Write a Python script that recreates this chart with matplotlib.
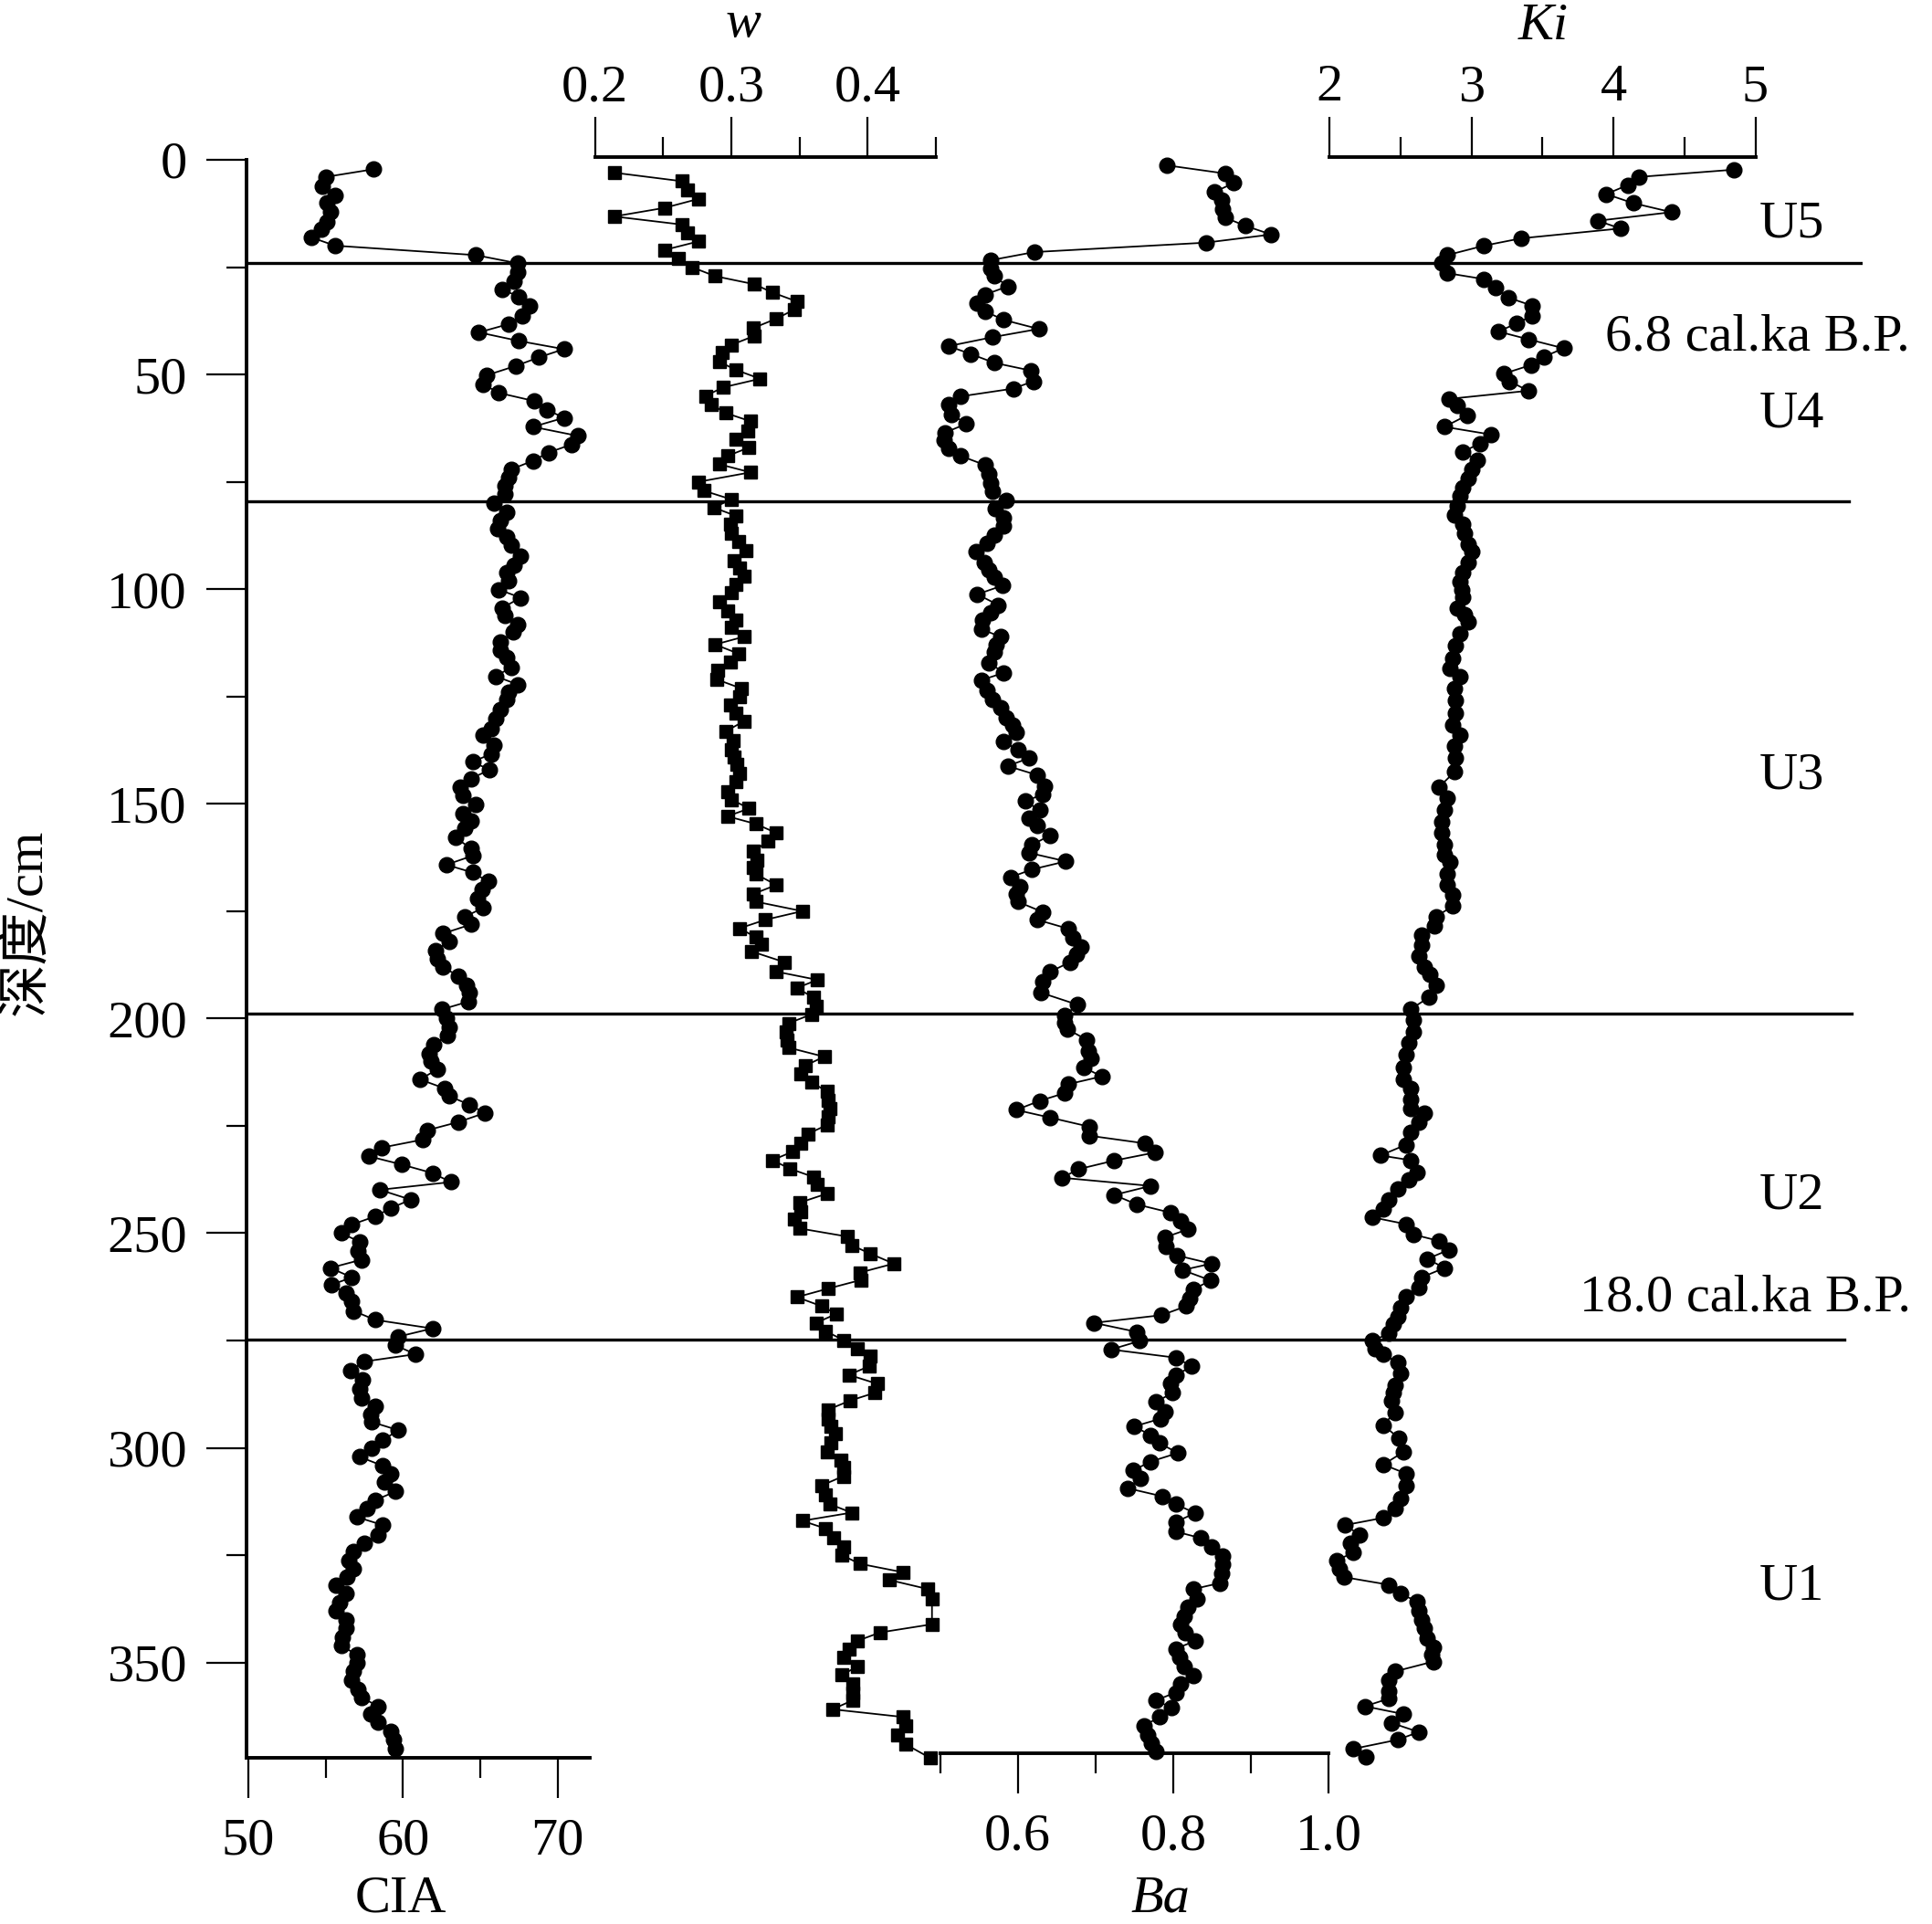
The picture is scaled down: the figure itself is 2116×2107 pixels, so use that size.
import numpy as np
import matplotlib.pyplot as plt

plt.rcParams['font.family'] = ['Liberation Serif', 'Noto Sans CJK SC']

# ---- data (depth in cm) ----
cia_depth = [2.2, 4.0, 6.1, 8.4, 10.1, 12.2, 14.4, 16.1, 18.1, 20.0, 22.2, 24.1, 26.1, 28.2, 30.2, 31.9, 34.1, 36.3,
             38.3, 40.2, 42.2, 44.1, 46.0, 48.0, 50.2, 52.3, 54.3, 56.2, 58.2, 60.1, 62.2, 64.3, 66.3, 68.2, 70.1,
             72.1, 74.1, 76.0, 77.8, 79.9, 82.1, 84.0, 86.0, 87.9, 89.8, 92.3, 94.4, 96.2, 98.0, 100.1, 102.0, 104.4,
             106.1, 108.3, 110.0, 112.2, 114.3, 116.0, 118.2, 120.3, 122.2, 123.9, 125.6, 128.1, 130.2, 132.4, 134.1,
             136.3, 138.4, 140.2, 142.1, 144.1, 146.2, 148.0, 150.1, 152.2, 154.0, 155.7, 157.9, 160.4, 162.1, 164.2,
             166.0, 168.1, 169.9, 172.0, 174.2, 176.3, 178.1, 180.2, 182.0, 184.1, 186.2, 188.1, 190.1, 192.2, 194.0,
             196.1, 197.9, 200.0, 202.1, 203.9, 206.0, 208.2, 209.9, 211.9, 214.2, 216.3, 218.1, 220.1, 222.0, 224.1,
             226.0, 228.2, 230.1, 232.1, 234.0, 236.0, 238.1, 239.9, 242.2, 244.2, 246.1, 248.0, 250.0, 252.0, 254.1,
             256.2, 258.1, 260.3, 262.0, 264.0, 265.9, 268.1, 270.2, 272.2, 274.1, 276.1, 278.2, 279.9, 282.0, 284.2,
             286.3, 288.3, 290.3, 292.2, 294.0, 295.9, 298.2, 300.2, 302.1, 304.2, 306.0, 308.0, 310.2, 312.2, 314.1,
             316.1, 318.0, 320.2, 322.2, 324.1, 326.2, 328.1, 330.1, 331.9, 334.0, 336.1, 337.9, 340.0, 342.0, 344.1,
             346.0, 348.2, 350.1, 352.1, 354.2, 356.2, 358.1, 360.2, 362.0, 364.0, 366.1, 368.0, 370.1]
cia = [58.1, 55.0, 54.8, 55.6, 55.1, 55.3, 55.1, 54.7, 54.1, 55.6, 64.7, 67.4, 67.4, 67.2, 66.4, 67.5, 68.2, 67.7,
       66.8, 64.9, 67.5, 70.4, 68.8, 67.3, 65.4, 65.2, 66.2, 68.5, 69.3, 70.4, 68.4, 71.3, 70.9, 69.4, 68.4,
       67.0, 66.8, 66.6, 66.6, 65.9, 66.7, 66.3, 66.1, 66.7, 67.0, 67.6, 67.2, 66.7, 66.8, 66.2, 67.6, 66.4,
       66.6, 67.4, 67.1, 66.3, 66.3, 66.7, 67.0, 66.0, 67.4, 66.8, 66.7, 66.3, 66.0, 65.7, 65.2,
       65.9, 65.7, 64.5, 65.6, 64.4, 63.7, 63.9, 64.7, 63.9, 64.4, 64.0, 63.4, 64.4, 64.5, 62.8,
       64.5, 65.5, 65.1, 64.8, 65.2, 64.0, 64.4, 62.6, 63.0, 62.1, 62.2, 62.6, 63.6, 64.1, 64.3,
       64.2, 62.5, 62.8, 63.0, 62.9, 62.0, 61.7, 61.8, 62.2, 61.1, 62.7, 63.0, 64.3, 65.3, 63.6,
       61.6, 61.3, 58.6, 57.8, 59.9, 61.9, 63.1, 58.5, 60.5, 59.2, 58.2, 56.7, 56.0, 57.2, 57.1,
       57.3, 55.3, 56.7, 55.4, 56.3, 56.7, 56.8, 58.2, 61.9, 59.7, 59.5, 60.8, 57.5, 56.6, 57.4,
       57.2, 57.3, 58.2, 57.9, 58.0, 59.7, 58.7, 58.0, 57.2, 58.7, 59.2, 58.8, 59.5, 58.2, 57.7,
       57.0, 58.7, 58.4, 57.5, 56.8, 56.5, 56.8, 56.4, 55.7, 56.3, 55.9, 55.7, 56.3, 56.3, 56.1,
       56.0, 57.0, 57.0, 56.8, 56.7, 57.1, 57.3, 58.4, 57.9, 58.4, 59.2, 59.4, 59.5]

w_depth = [3.0, 5.0, 7.1, 9.1, 11.2, 13.2, 15.1, 17.0, 19.0, 21.0, 22.9, 25.0, 27.1, 29.0, 30.9, 33.0, 34.9, 37.0,
           39.2, 41.0, 43.1, 44.8, 47.0, 48.9, 51.0, 53.0, 55.0, 56.9, 59.0, 60.9, 63.1, 65.0, 67.0, 69.0, 70.9,
           72.8, 75.0, 77.1, 79.1, 81.0, 82.9, 84.9, 87.0, 89.0, 91.1, 93.4, 95.1, 96.9, 99.0, 100.8, 103.0, 105.1,
           107.2, 109.0, 111.1, 112.9, 115.0, 116.9, 118.9, 121.0, 123.1, 125.1, 127.0, 128.9, 130.8, 133.1, 135.2,
           137.3, 139.1, 140.9, 143.0, 144.8, 147.2, 149.0, 151.1, 152.9, 154.7, 156.8, 158.7, 161.1, 163.2, 164.8,
           166.4, 168.9, 171.0, 172.8, 175.0, 177.0, 179.0, 181.1, 182.8, 184.4, 186.9, 189.1, 191.0, 192.9, 195.1,
           197.2, 199.0, 201.1, 203.2, 205.0, 206.8, 208.9, 211.0, 213.0, 214.9, 217.0, 219.0, 220.9, 222.9, 224.8,
           226.9, 229.1, 231.0, 233.0, 235.0, 236.9, 238.6, 240.8, 242.9, 245.0, 246.8, 248.9, 250.8, 252.8, 254.8,
           257.1, 259.2, 260.9, 262.9, 264.9, 267.0, 268.8, 270.9, 272.8, 274.9, 276.9, 278.7, 281.0, 283.0, 285.1,
           287.2, 289.0, 291.1, 293.2, 295.0, 296.8, 298.9, 300.9, 302.8, 304.6, 306.6, 308.8, 311.0, 313.1, 315.1,
           317.0, 318.8, 320.9, 323.0, 325.0, 327.0, 329.0, 330.8, 332.9, 335.1, 341.1, 343.0, 345.0, 346.8, 348.9,
           351.0, 352.9, 354.9, 357.0, 358.8, 360.9, 362.7, 364.8, 366.8, 369.1, 372.3]
w = [0.214, 0.264, 0.268, 0.276, 0.251, 0.214, 0.264, 0.268, 0.276, 0.251, 0.261, 0.271, 0.288, 0.317, 0.330, 0.348,
     0.346, 0.333, 0.316, 0.317, 0.300, 0.293, 0.291, 0.303, 0.321, 0.294, 0.281, 0.285, 0.296, 0.314, 0.312, 0.303,
     0.313, 0.297, 0.291, 0.314, 0.276, 0.280, 0.300, 0.287, 0.303, 0.299, 0.300, 0.305, 0.311, 0.302, 0.306, 0.309,
     0.303, 0.300, 0.291, 0.297, 0.303, 0.300, 0.309, 0.288, 0.305, 0.299, 0.290, 0.289, 0.307, 0.306, 0.299, 0.303,
     0.309, 0.296, 0.301, 0.300, 0.302, 0.304, 0.306, 0.303, 0.297, 0.300, 0.313, 0.297, 0.318, 0.333, 0.327, 0.316,
     0.319, 0.316, 0.318, 0.333, 0.316, 0.318, 0.352, 0.325, 0.306, 0.318, 0.322, 0.315, 0.339, 0.333, 0.363, 0.348,
     0.360, 0.362, 0.359, 0.342, 0.340, 0.341, 0.342, 0.368, 0.354, 0.351, 0.359, 0.370, 0.371, 0.372, 0.371, 0.370,
     0.356, 0.351, 0.345, 0.330, 0.343, 0.360, 0.363, 0.370, 0.350, 0.351, 0.346, 0.350, 0.385, 0.388, 0.402, 0.419,
     0.394, 0.395, 0.371, 0.348, 0.366, 0.377, 0.362, 0.369, 0.382, 0.392, 0.402, 0.401, 0.386, 0.407, 0.405, 0.387,
     0.371, 0.371, 0.373, 0.376, 0.373, 0.370, 0.380, 0.382, 0.382, 0.366, 0.369, 0.372, 0.388, 0.352, 0.369, 0.375,
     0.382, 0.381, 0.394, 0.426, 0.416, 0.444, 0.447, 0.447, 0.409, 0.392, 0.386, 0.382, 0.392, 0.381, 0.389, 0.389,
     0.389, 0.374, 0.426, 0.428, 0.422, 0.428, 0.446]

ba_depth = [1.3, 3.2, 5.4, 7.5, 9.4, 11.5, 13.5, 15.4, 17.4, 19.3, 21.5, 23.4, 25.4, 27.1, 29.5, 31.4, 33.3, 35.3,
            37.3, 39.4, 41.3, 43.4, 45.2, 47.3, 49.1, 51.6, 53.3, 55.1, 57.1, 59.3, 61.5, 63.5, 65.4, 67.2, 69.0,
            71.1, 73.2, 75.3, 77.2, 79.4, 81.3, 83.3, 85.2, 87.4, 89.3, 91.3, 93.7, 95.5, 97.3, 99.2, 101.2, 103.7,
            105.5, 107.2, 109.3, 111.1, 113.0, 114.6, 117.1, 119.5, 121.2, 123.5, 125.6, 127.7, 129.9, 131.6, 133.4,
            135.5, 137.5, 139.4, 141.2, 143.3, 145.8, 147.8, 149.4, 151.5, 153.3, 155.0, 157.3, 159.6, 161.4, 163.4,
            165.3, 167.1, 169.2, 171.0, 172.8, 175.2, 177.0, 179.1, 181.3, 183.4, 185.0, 186.9, 189.1, 191.5, 194.0,
            196.8, 199.3, 201.0, 202.5, 205.0, 207.5, 209.2, 211.4, 213.5, 215.3, 217.4, 219.2, 221.3, 223.1, 225.2,
            227.3, 229.1, 231.2, 233.1, 235.1, 237.1, 239.0, 241.1, 243.3, 245.2, 247.2, 249.1, 251.0, 253.2, 255.2,
            257.1, 258.6, 261.0, 263.1, 265.2, 267.0, 269.1, 270.9, 273.0, 275.1, 277.1, 279.0, 281.0, 283.1, 285.1,
            287.2, 289.3, 291.5, 293.2, 295.0, 297.1, 298.9, 301.2, 303.2, 305.3, 307.1, 309.4, 311.3, 313.1, 315.2,
            317.3, 319.5, 321.0, 323.0, 325.1, 327.1, 329.2, 331.5, 332.9, 335.1, 337.2, 339.2, 341.1, 343.0, 345.0,
            346.8, 348.9, 351.0, 353.1, 354.9, 357.0, 358.8, 360.6, 362.7, 364.8, 366.9, 368.7, 370.8]
ba = [0.792, 0.867, 0.878, 0.853, 0.862, 0.864, 0.867, 0.893, 0.926, 0.842, 0.621, 0.565, 0.565, 0.570, 0.587, 0.558,
      0.548, 0.558, 0.582, 0.627, 0.568, 0.511, 0.539, 0.570, 0.617, 0.620, 0.594, 0.527, 0.511, 0.515, 0.534, 0.507,
      0.505, 0.511, 0.527, 0.558, 0.563, 0.565, 0.568, 0.585, 0.571, 0.582, 0.582, 0.570, 0.560, 0.546, 0.557, 0.563,
      0.570, 0.580, 0.548, 0.575, 0.565, 0.555, 0.553, 0.578, 0.572, 0.570, 0.563, 0.582, 0.553, 0.560, 0.568, 0.578,
      0.585, 0.593, 0.598, 0.582, 0.600, 0.614, 0.587, 0.625, 0.634, 0.632, 0.610, 0.628, 0.614, 0.625, 0.642, 0.618,
      0.614, 0.662, 0.618, 0.591, 0.603, 0.598, 0.600, 0.632, 0.625, 0.665, 0.671, 0.682, 0.675, 0.667, 0.642, 0.632,
      0.630, 0.677, 0.660, 0.660, 0.664, 0.689, 0.691, 0.694, 0.685, 0.708, 0.665, 0.660, 0.628, 0.598, 0.642, 0.692,
      0.692, 0.764, 0.777, 0.724, 0.678, 0.657, 0.771, 0.724, 0.753, 0.796, 0.810, 0.819, 0.789, 0.791, 0.805, 0.849,
      0.812, 0.848, 0.826, 0.821, 0.817, 0.785, 0.698, 0.753, 0.757, 0.720, 0.803, 0.824, 0.803, 0.796, 0.799, 0.778,
      0.789, 0.784, 0.750, 0.771, 0.782, 0.806, 0.771, 0.748, 0.758, 0.741, 0.786, 0.803, 0.828, 0.803, 0.803, 0.835,
      0.849, 0.864, 0.864, 0.862, 0.860, 0.826, 0.831, 0.819, 0.814, 0.810, 0.815, 0.828, 0.803, 0.808, 0.814, 0.826,
      0.810, 0.803, 0.778, 0.798, 0.782, 0.762, 0.767, 0.772, 0.778]

ki_depth = [2.3, 4.0, 5.9, 8.0, 10.1, 12.2, 14.2, 16.0, 18.3, 20.0, 22.2, 24.1, 26.4, 27.8, 29.8, 32.1, 34.0, 36.3,
            38.1, 40.0, 41.8, 43.9, 45.9, 47.8, 49.8, 51.6, 53.8, 55.7, 57.3, 59.5, 62.2, 64.0, 66.1, 68.0, 70.0,
            72.1, 74.3, 76.4, 78.2, 80.6, 82.8, 84.9, 87.0, 89.5, 91.2, 93.7, 96.2, 98.3, 100.1, 101.9, 104.4, 106.0,
            107.6, 110.4, 113.2, 116.1, 118.5, 120.3, 123.1, 126.0, 128.8, 131.6, 134.1, 136.6, 139.4, 142.6, 146.2,
            148.7, 151.5, 154.3, 156.8, 159.6, 161.8, 163.5, 166.4, 168.9, 171.3, 173.8, 176.3, 178.4, 180.5, 183.0,
            185.5, 188.0, 189.7, 192.2, 195.1, 197.9, 200.4, 203.2, 205.7, 208.5, 211.4, 214.2, 216.3, 218.8, 220.9,
            222.0, 224.1, 226.6, 229.4, 231.9, 233.0, 235.8, 237.6, 239.7, 242.2, 244.3, 246.3, 247.9, 250.3, 251.8,
            253.9, 256.0, 258.1, 260.3, 262.7, 264.9, 267.3, 269.5, 271.2, 273.4, 275.1, 276.9, 278.3, 280.1, 282.6,
            285.4, 287.2, 289.0, 291.8, 294.7, 297.8, 301.0, 303.9, 306.0, 308.8, 311.7, 314.1, 316.3, 318.0, 320.2,
            322.3, 324.4, 326.2, 328.2, 330.1, 331.9, 334.0, 335.8, 337.9, 340.0, 342.1, 344.3, 346.4, 348.1, 349.8,
            352.1, 354.2, 356.7, 358.4, 360.2, 362.0, 364.1, 366.2, 368.0, 370.1, 371.9]
ki = [4.85, 4.18, 4.10, 3.95, 4.14, 4.41, 3.89, 4.05, 3.35, 3.09, 2.83, 2.79, 2.83, 3.09, 3.17, 3.26, 3.43, 3.43,
      3.32, 3.19, 3.40, 3.65, 3.51, 3.42, 3.23, 3.27, 3.40, 2.84, 2.90, 2.97, 2.81, 3.14, 3.06, 2.94, 3.04,
      3.00, 2.98, 2.94, 2.92, 2.90, 2.88, 2.94, 2.95, 2.98, 3.00, 2.98, 2.94, 2.92, 2.93, 2.94, 2.90, 2.95,
      2.98, 2.92, 2.89, 2.87, 2.85, 2.92, 2.88, 2.89, 2.89, 2.87, 2.92, 2.88, 2.89, 2.88, 2.77,
      2.83, 2.81, 2.79, 2.79, 2.81, 2.81, 2.85, 2.83, 2.83, 2.87, 2.87, 2.75, 2.74, 2.65, 2.65,
      2.63, 2.67, 2.71, 2.75, 2.70, 2.57, 2.59, 2.59, 2.56, 2.54, 2.52, 2.52, 2.57, 2.57, 2.57,
      2.67, 2.63, 2.57, 2.54, 2.36, 2.57, 2.62, 2.56, 2.48, 2.42, 2.38, 2.30, 2.54, 2.59, 2.77,
      2.84, 2.69, 2.81, 2.65, 2.63, 2.54, 2.50, 2.48, 2.45, 2.42, 2.30, 2.32, 2.38, 2.48, 2.50,
      2.46, 2.45, 2.44, 2.46, 2.38, 2.49, 2.52, 2.38, 2.54, 2.54, 2.50, 2.46, 2.38, 2.11, 2.21,
      2.15, 2.17, 2.05, 2.07, 2.10, 2.42, 2.50, 2.62, 2.63, 2.65, 2.67, 2.69, 2.73, 2.72, 2.73,
      2.46, 2.42, 2.42, 2.42, 2.25, 2.52, 2.44, 2.63, 2.48, 2.17, 2.26]

boundaries = [23.97, 79.5, 198.85, 274.7]
units = ['U5', 'U4', 'U3', 'U2', 'U1']
ages = ['6.8 cal.ka B.P.', '18.0 cal.ka B.P.']

# ---- layout (pixels) ----
W, H = 2116, 2107
fs = 42
fig = plt.figure(figsize=(W / 100, H / 100), dpi=100)
x0, x1 = 270, 2040
y_top, y_bot = 172.3, 1925
ax = fig.add_axes([x0 / W, 1 - y_bot / H, (x1 - x0) / W, (y_bot - y_top) / H])
ax.set_ylim(372.2, -0.57)
ax.set_xlim(x0, x1)
ax.patch.set_visible(False)
for s in ['top', 'right', 'bottom']:
    ax.spines[s].set_visible(False)
ax.spines['left'].set_linewidth(2.8)
ax.spines['left'].set_bounds(0, 372.2)
ax.xaxis.set_visible(False)
ax.set_yticks(np.arange(0, 351, 50))
ax.set_yticks(np.arange(25, 351, 50), minor=True)
ax.tick_params(axis='y', which='major', length=32, width=1.6, pad=15, labelsize=fs)
ax.tick_params(axis='y', which='minor', length=15.5, width=1.6)

# unit boundaries
line_end = [2038, 2025, 2028, 2020]
for d, e in zip(boundaries, line_end):
    ax.axhline(d, xmin=0, xmax=(e - x0) / (x1 - x0), color='k', lw=2.4, zorder=1)


def make_twin(px_a, va, px_b, vb, side, lo, hi, major, minor, labels, spine_pos=None):
    t = ax.twiny()
    sc = (px_b - px_a) / (vb - va)
    t.set_xlim(va + (x0 - px_a) / sc, va + (x1 - px_a) / sc)
    for s in t.spines.values():
        s.set_visible(False)
    sp = t.spines[side]
    sp.set_visible(True)
    sp.set_linewidth(2.8)
    sp.set_bounds(lo, hi)
    if spine_pos is not None:
        sp.set_position(('data', spine_pos))
    t.xaxis.set_ticks_position(side)
    t.set_xticks(major)
    t.set_xticklabels(labels)
    t.set_xticks(minor, minor=True)
    pad = 15 if side == 'bottom' else 4
    t.tick_params(axis='x', which='major', length=32, width=1.6, pad=pad, labelsize=fs, direction='out')
    t.tick_params(axis='x', which='minor', length=15.5, width=1.6, direction='out')
    t.yaxis.set_visible(False)
    return t


t_cia = make_twin(271.9, 50, 610.8, 70, 'bottom', 49.9, 72.1, [50, 60, 70], [55, 65], ['50', '60', '70'])
t_w = make_twin(651.6, 0.2, 950.5, 0.4, 'top', 0.2, 0.45, [0.2, 0.3, 0.4], [0.25, 0.35, 0.45], ['0.2', '0.3', '0.4'])
t_ba = make_twin(1029.5, 0.5, 1455.3, 1.0, 'bottom', 0.5, 1.0, [0.6, 0.8, 1.0], [0.5, 0.7, 0.9],
                 ['0.6', '0.8', '1.0'], spine_pos=371.1)
t_ki = make_twin(1456.0, 2, 1922.5, 5, 'top', 2, 5, [2, 3, 4, 5], [2.5, 3.5, 4.5], ['2', '3', '4', '5'])

style = dict(color='k', lw=1.3, mfc='k', mec='k', clip_on=False)
t_cia.plot(cia, cia_depth, marker='o', ms=12, **style)
t_w.plot(w, w_depth, marker='s', ms=10.5, **style)
t_ba.plot(ba, ba_depth, marker='o', ms=12, **style)
t_ki.plot(ki, ki_depth, marker='o', ms=12, **style)

# axis titles
fig.text(439 / W, 1 - 2094 / H, 'CIA', ha='center', va='baseline', fontsize=fs)
fig.text(1271 / W, 1 - 2094 / H, 'Ba', ha='center', va='baseline', fontsize=fs, style='italic')
fig.text(814 / W, 1 - 40 / H, 'w', ha='center', va='baseline', fontsize=fs, style='italic')
fig.text(1690 / W, 1 - 43 / H, 'Ki', ha='center', va='baseline', fontsize=fs, style='italic')
fig.text(29 / W, 1 - 1010 / H, '深度/cm', ha='center', va='center', rotation=90, fontsize=fs)

# unit and age labels
unit_base = [259, 468, 864, 1323, 1752]
for u, yb in zip(units, unit_base):
    fig.text(1927 / W, 1 - yb / H, u, ha='left', va='baseline', fontsize=fs)
fig.text(1758 / W, 1 - 383 / H, ages[0], ha='left', va='baseline', fontsize=fs)
fig.text(1730 / W, 1 - 1436 / H, ages[1], ha='left', va='baseline', fontsize=fs)

fig.savefig('out.png', dpi=100)
